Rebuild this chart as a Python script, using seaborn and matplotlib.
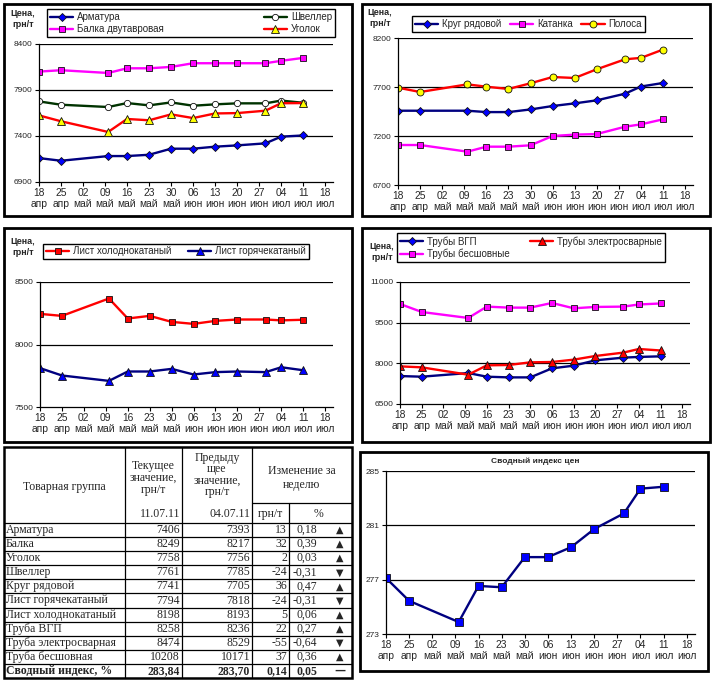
import matplotlib
matplotlib.use("Agg")
import matplotlib.pyplot as plt
import seaborn as sns
import pandas as pd
from matplotlib.patches import Rectangle
from matplotlib.lines import Line2D

sns.set_theme(style="white")
plt.rcParams['font.family'] = ['Liberation Sans', 'DejaVu Sans']

# ---------------- data ----------------
dates = pd.to_datetime(["2011-04-18", "2011-04-25", "2011-05-10", "2011-05-16", "2011-05-23",
                        "2011-05-30", "2011-06-06", "2011-06-13", "2011-06-20", "2011-06-29",
                        "2011-07-04", "2011-07-11"])
tick_dates = pd.date_range("2011-04-18", "2011-07-18", freq="7D")
month_names = {4: "апр", 5: "май", 6: "июн", 7: "июл"}

armatura = [7160, 7131, 7182, 7182, 7196, 7262, 7262, 7284, 7298, 7320, 7393, 7406]
balka = [8100, 8115, 8085, 8136, 8136, 8151, 8191, 8191, 8191, 8191, 8217, 8249]
shveller = [7776, 7740, 7715, 7758, 7733, 7765, 7729, 7744, 7755, 7755, 7785, 7761]
ugolok = [7624, 7560, 7444, 7585, 7571, 7635, 7595, 7645, 7649, 7675, 7756, 7758]

krug = [7458, 7458, 7458, 7444, 7444, 7471, 7506, 7533, 7564, 7632, 7705, 7741]
katanka = [7108, 7108, 7040, 7091, 7091, 7105, 7200, 7214, 7220, 7295, 7319, 7370]
polosa = [7693, 7649, 7727, 7703, 7680, 7738, 7802, 7792, 7881, 7983, 7997, 8082]

list_hol = [8245, 8229, 8368, 8208, 8229, 8181, 8165, 8189, 8200, 8200, 8193, 8198]
list_gor = [7811, 7752, 7709, 7784, 7784, 7805, 7760, 7779, 7784, 7779, 7818, 7794]

vgp = [7531, 7507, 7642, 7507, 7482, 7482, 7815, 7914, 8111, 8210, 8236, 8258]
elektro = [7889, 7852, 7581, 7926, 7938, 8037, 8049, 8136, 8271, 8395, 8529, 8474]
besshov = [10190, 9894, 9673, 10092, 10055, 10055, 10227, 10030, 10080, 10092, 10171, 10208]

price_index = [277.12, 275.44, 273.88, 276.54, 276.44, 278.66, 278.66, 279.39, 280.73, 281.88, 283.70, 283.84]

yticks1 = [6900, 7400, 7900, 8400]
yticks2 = [6700, 7200, 7700, 8200]
yticks3 = [7500, 8000, 8500]
yticks4 = [6500, 8000, 9500, 11000]
yticks5 = [273, 277, 281, 285]

table_names = ["Арматура", "Балка", "Уголок", "Швеллер", "Круг рядовой", "Лист горячекатаный",
               "Лист холоднокатаный", "Труба ВГП", "Труба электросварная", "Труба бесшовная"]
table_current = [7406, 8249, 7758, 7761, 7741, 7794, 8198, 8258, 8474, 10208]
table_previous = [7393, 8217, 7756, 7785, 7705, 7818, 8193, 8236, 8529, 10171]
table_diff = [13, 32, 2, -24, 36, -24, 5, 22, -55, 37]
table_pct = [0.18, 0.39, 0.03, -0.31, 0.47, -0.31, 0.06, 0.27, -0.64, 0.36]
summary_row = ["Сводный индекс, %", 283.84, 283.70, 0.14, 0.05]
date_current = "11.07.11"
date_previous = "04.07.11"

# ---------------- figure ----------------
W, H = 720, 681
fig = plt.figure(figsize=(7.2, 6.81), dpi=100)
fig.patch.set_facecolor("white")

def fx(x):
    return x / W

def fy(y):
    return 1 - y / H

def frame(x0, y0, x1, y1, lw=2.0):
    fig.patches.append(Rectangle((fx(x0), fy(y1)), (x1 - x0) / W, (y1 - y0) / H,
                                 transform=fig.transFigure, fill=False,
                                 edgecolor="black", linewidth=lw, zorder=5))

def make_ax(x0, y0, x1, y1):
    return fig.add_axes([fx(x0), fy(y1), (x1 - x0) / W, (y1 - y0) / H])

tick_labels = [f"{d.day:02d}\n{month_names[d.month]}" for d in tick_dates]
x_start = pd.Timestamp("2011-04-18")
x_end = pd.Timestamp("2011-07-20 12:00")

def style_ax(ax, yticks):
    ax.set_xlim(x_start, x_end)
    ax.set_ylim(yticks[0], yticks[-1])
    ax.set_yticks(yticks)
    ax.set_yticklabels([str(t) for t in yticks], fontsize=6)
    ax.set_xticks(tick_dates)
    ax.set_xticklabels(tick_labels, fontsize=7.4, linespacing=1.05)
    for s in ["top", "right"]:
        ax.spines[s].set_visible(False)
    for s in ["left", "bottom"]:
        ax.spines[s].set_color("black")
        ax.spines[s].set_linewidth(0.9)
    for t in yticks[1:]:
        ax.axhline(t, color="black", lw=0.9, zorder=0)
    ax.tick_params(axis="both", direction="out", length=3, width=0.8, color="black",
                   pad=1.5, bottom=True, left=True)
    ax.set_xlabel("")
    ax.set_ylabel("")
    ax.set_facecolor("white")

def series(ax, y, color, marker, mfc, ms=5.0):
    sns.lineplot(x=dates, y=y, ax=ax, color=color, lw=1.7, marker=marker,
                 markersize=ms, markerfacecolor=mfc, markeredgecolor="#101010",
                 markeredgewidth=0.6, legend=False)
    return Line2D([], [], color=color, lw=1.7, marker=marker, markersize=ms,
                  markerfacecolor=mfc, markeredgecolor="#101010", markeredgewidth=0.6)

def legend_box(handles, labels, x0, y0, x1, y1, ncol):
    fig.legend(handles, labels, loc="center", bbox_to_anchor=(fx(x0), fy(y1), (x1 - x0) / W, (y1 - y0) / H),
               bbox_transform=fig.transFigure, mode="expand", ncol=ncol, fontsize=7,
               frameon=True, fancybox=False, edgecolor="black", framealpha=1,
               handlelength=2.4, handletextpad=0.4, borderpad=0.3, labelspacing=0.2,
               columnspacing=1.0, borderaxespad=0)

def price_label(xc, yc):
    fig.text(fx(xc), fy(yc), "Цена,\nгрн/т", fontsize=6.5, fontweight="bold",
             ha="center", va="center", multialignment="center", linespacing=1.4)

navy = "#000080"
blue = "#0000FF"
magenta = "#FF00FF"
red = "#FF0000"
yellow = "#FFFF00"
green = "#003300"

# frames
frame(4, 4, 352, 216)
frame(362, 4, 710, 216)
frame(4, 228, 352, 442)
frame(362, 228, 710, 442)
frame(360, 452, 708, 671)

# chart 1
ax1 = make_ax(39, 44, 333, 182)
h_arm = series(ax1, armatura, navy, "D", blue, 4.5)
h_bal = series(ax1, balka, magenta, "s", magenta, 5)
h_shv = series(ax1, shveller, green, "o", "white", 4.5)
h_ugo = series(ax1, ugolok, red, "^", yellow, 5.5)
style_ax(ax1, yticks1)
legend_box([h_arm, h_bal, h_shv, h_ugo], ["Арматура", "Балка двутавровая", "Швеллер", "Уголок"],
           47, 10, 335, 36, 2)
price_label(23, 19)

# chart 2
ax2 = make_ax(398, 38, 693, 185)
h_kr = series(ax2, krug, navy, "D", blue, 4.5)
h_ka = series(ax2, katanka, magenta, "s", magenta, 5)
h_po = series(ax2, polosa, red, "o", yellow, 5)
style_ax(ax2, yticks2)
legend_box([h_kr, h_ka, h_po], ["Круг рядовой", "Катанка", "Полоса"], 412, 15, 645, 33, 3)
price_label(380, 18)

# chart 3
ax3 = make_ax(40, 282, 333, 407)
h_lh = series(ax3, list_hol, red, "s", red, 5)
h_lg = series(ax3, list_gor, navy, "^", blue, 5.5)
style_ax(ax3, yticks3)
legend_box([h_lh, h_lg], ["Лист холоднокатаный", "Лист горячекатаный"], 43, 242, 309, 261, 2)
price_label(23, 247)

# chart 4
ax4 = make_ax(400, 282, 690, 404)
h_vgp = series(ax4, vgp, navy, "D", blue, 4.5)
h_el = series(ax4, elektro, red, "^", red, 5.5)
h_bs = series(ax4, besshov, magenta, "s", magenta, 5)
style_ax(ax4, yticks4)
legend_box([h_vgp, h_bs, h_el], ["Трубы ВГП", "Трубы бесшовные", "Трубы электросварные"],
           397, 228, 665, 267, 2)
price_label(382, 252)

# chart 5
ax5 = make_ax(386, 471, 695, 634)
series(ax5, price_index, navy, "s", blue, 5.5)
style_ax(ax5, yticks5)
fig.text(fx(535), fy(461), "Сводный индекс цен", fontsize=6, fontweight="bold",
         ha="center", va="center")

# ---------------- table ----------------
serif = ["Liberation Serif", "DejaVu Sans"]
tfs = 8.5
tx = [4, 125, 182, 252, 289, 352]
t_top, t_sub, t_head = 447, 503, 523
t_bottom = 678
n_rows = len(table_names) + 1
row_h = (t_bottom - t_head) / n_rows

def hline(x0, x1, y, lw=0.9):
    fig.lines.append(Line2D([fx(x0), fx(x1)], [fy(y), fy(y)], transform=fig.transFigure,
                            color="black", lw=lw))

def vline(x, y0, y1, lw=0.9):
    fig.lines.append(Line2D([fx(x), fx(x)], [fy(y0), fy(y1)], transform=fig.transFigure,
                            color="black", lw=lw))

def ttext(x, y, s, ha="center", bold=False, ls=1.0):
    fig.text(fx(x), fy(y), s, fontsize=tfs, family=serif, ha=ha, va="center",
             fontweight="bold" if bold else "normal", multialignment="center", linespacing=ls)

frame(4, t_top, 352, t_bottom, lw=1.8)
hline(tx[3], tx[5], t_sub)
hline(tx[0], tx[5], t_head)
for x in tx[1:4]:
    vline(x, t_top, t_bottom)
vline(tx[4], t_sub, t_bottom)
for i in range(1, n_rows):
    hline(tx[0], tx[5], t_head + i * row_h)

ttext((tx[0] + tx[1]) / 2, 487, "Товарная группа")
ttext((tx[1] + tx[2]) / 2, 478, "Текущее\nзначение,\nгрн/т", ls=0.95)
ttext((tx[2] + tx[3]) / 2, 475, "Предыду\nщее\nзначение,\nгрн/т", ls=0.95)
ttext((tx[3] + tx[5]) / 2, 478, "Изменение за\nнеделю", ls=1.3)
ttext(tx[2] - 2, 514, date_current, ha="right")
ttext(tx[3] - 2, 514, date_previous, ha="right")
ttext((tx[3] + tx[4]) / 2, 514, "грн/т")
ttext(318, 514, "%")

def fmt(v, nd):
    return f"{v:.{nd}f}".replace(".", ",")

for i, name in enumerate(table_names):
    yc = t_head + (i + 0.5) * row_h
    ttext(tx[0] + 2, yc, name, ha="left")
    ttext(tx[2] - 2, yc, str(table_current[i]), ha="right")
    ttext(tx[3] - 2, yc, str(table_previous[i]), ha="right")
    ttext(tx[4] - 2, yc, str(table_diff[i]), ha="right")
    ttext(317, yc, fmt(table_pct[i], 2), ha="right")
    arrow = "▲" if table_pct[i] > 0 else "▼"
    fig.text(fx(340), fy(yc), arrow, fontsize=7, family=["DejaVu Sans"], ha="center", va="center")

yc = t_head + (n_rows - 0.5) * row_h
ttext(tx[0] + 2, yc, summary_row[0], ha="left", bold=True)
ttext(tx[2] - 2, yc, fmt(summary_row[1], 2), ha="right", bold=True)
ttext(tx[3] - 2, yc, fmt(summary_row[2], 2), ha="right", bold=True)
ttext(tx[4] - 2, yc, fmt(summary_row[3], 2), ha="right", bold=True)
ttext(317, yc, fmt(summary_row[4], 2), ha="right", bold=True)
fig.text(fx(340), fy(yc), "—", fontsize=8, family=["DejaVu Sans"], ha="center", va="center",
         fontweight="bold")

fig.savefig("out.png", dpi=100, facecolor="white")
